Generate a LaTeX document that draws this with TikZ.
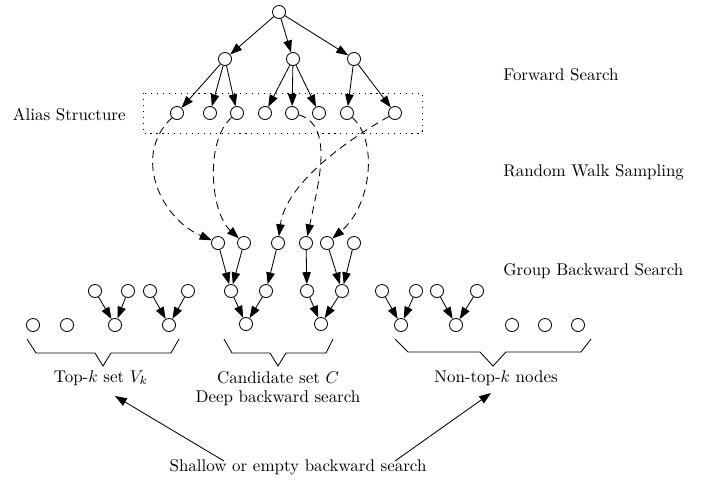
\documentclass[tikz,border=0pt]{standalone}
\usetikzlibrary{arrows.meta}
\begin{document}
\begin{tikzpicture}[x=0.59pt,y=-0.59pt,
  nd/.style={circle,draw,line width=0.5pt,minimum size=7.7pt,inner sep=0pt},
  arr/.style={line width=0.5pt,-{Triangle[length=7pt,width=5pt]}},
  darr/.style={arr,dash pattern=on 4.5pt off 3pt},
  brc/.style={line width=0.5pt},
  lbl/.style={inner sep=0pt}]
\useasboundingbox (0,0) rectangle (714,485);
% forward tree
\node[nd] (r) at (279,12) {};
\node[nd] (fa) at (225,59) {};
\node[nd] (fb) at (293,59) {};
\node[nd] (fc) at (354,59) {};
\foreach \n/\x in {a1/177,a2/210,a3/237,a4/265,a5/292,a6/319,a7/347,a8/395}
  \node[nd] (\n) at (\x,113) {};
\draw[line width=0.5pt,dash pattern=on 0.7pt off 2.8pt] (143,93) rectangle (422,133);
\foreach \t in {fa,fb,fc} \draw[arr] (r) -- (\t);
\foreach \t in {a1,a2,a3} \draw[arr] (fa) -- (\t);
\foreach \t in {a4,a5,a6} \draw[arr] (fb) -- (\t);
\foreach \t in {a7,a8} \draw[arr] (fc) -- (\t);
% candidate set
\foreach \n/\x in {c1/218,c2/244,c3/278,c4/306,c5/327,c6/354}
  \node[nd] (\n) at (\x,243) {};
\node[nd] (m1) at (231,291) {};
\node[nd] (m2) at (266,291) {};
\node[nd] (m3) at (307,291) {};
\node[nd] (m4) at (342,291) {};
\node[nd] (b1) at (246,324) {};
\node[nd] (b2) at (321,324) {};
\draw[arr] (c1) -- (m1); \draw[arr] (c2) -- (m1);
\draw[arr] (c3) -- (m2); \draw[arr] (c4) -- (m3);
\draw[arr] (c5) -- (m4); \draw[arr] (c6) -- (m4);
\draw[arr] (m1) -- (b1); \draw[arr] (m2) -- (b1);
\draw[arr] (m3) -- (b2); \draw[arr] (m4) -- (b2);
% random walks
\draw[darr] (a1) .. controls (132,155) and (160,218) .. (c1);
\draw[darr] (a3) .. controls (205,140) and (210,212) .. (c2);
\draw[darr] (a5) .. controls (335,125) and (318,185) .. (c4);
\draw[darr] (a7) .. controls (378,140) and (372,205) .. (c5);
\draw[darr] (a8) .. controls (330,150) and (285,190) .. (c3);
% top-k group
\node[nd] (l1) at (33,325) {};
\node[nd] (l2) at (67,325) {};
\node[nd] (l3) at (115,325) {};
\node[nd] (l4) at (169,325) {};
\node[nd] (t1) at (95,291) {};
\node[nd] (t2) at (128,291) {};
\node[nd] (t3) at (150,291) {};
\node[nd] (t4) at (188,291) {};
\draw[arr] (t1) -- (l3); \draw[arr] (t2) -- (l3);
\draw[arr] (t3) -- (l4); \draw[arr] (t4) -- (l4);
% non-top-k group
\node[nd] (n1) at (401,325) {};
\node[nd] (n2) at (456,325) {};
\node[nd] (n3) at (512,325) {};
\node[nd] (n4) at (545,325) {};
\node[nd] (n5) at (578,325) {};
\node[nd] (u1) at (382,291) {};
\node[nd] (u2) at (416,291) {};
\node[nd] (u3) at (437,291) {};
\node[nd] (u4) at (477,291) {};
\draw[arr] (u1) -- (n1); \draw[arr] (u2) -- (n1);
\draw[arr] (u3) -- (n2); \draw[arr] (u4) -- (n2);
% braces
\draw[brc] (27,339) -- (36,353) -- (95,353) -- (103,366) -- (111,353) -- (171,353) -- (179,339);
\draw[brc] (224,339) -- (232,353) -- (270,353) -- (278,366) -- (286,353) -- (326,353) -- (333,339);
\draw[brc] (395,339) -- (408,352) -- (480,352) -- (493,366) -- (506,352) -- (581,352) -- (591,339);
% labels
\node[lbl,anchor=west] (fs) at (503,75) {Forward Search};
\node[lbl,anchor=west] (rw) at (503,172) {Random Walk Sampling};
\node[lbl,anchor=west] (gb) at (503,271) {Group Backward Search};
\node[lbl,anchor=east] (as) at (126,115) {Alias Structure};
\node[lbl] (tk) at (101,378) {Top-$k$ set $V_k$};
\node[lbl] (cs) at (278,378) {Candidate set $C$};
\node[lbl] (db) at (278,398) {Deep backward search};
\node[lbl] (nt) at (496,378) {Non-top-$k$ nodes};
\node[lbl] (sh) at (298,467) {Shallow or empty backward search};
\coordinate (sl) at (224,461);
\coordinate (sr) at (395,461);
\coordinate (tl) at (115,396);
\coordinate (tr) at (491,393);
\draw[arr] (sl) -- (tl);
\draw[arr] (sr) -- (tr);
\end{tikzpicture}
\end{document}
